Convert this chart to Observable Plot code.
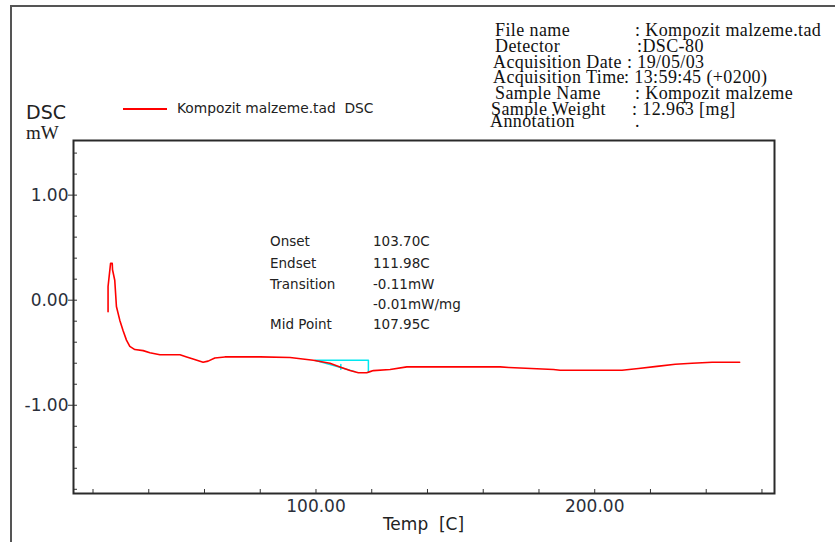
<!DOCTYPE html>
<html>
<head>
<meta charset="utf-8">
<script src="https://cdn.jsdelivr.net/npm/d3@7"></script>
<script src="https://cdn.jsdelivr.net/npm/@observablehq/plot@0.6"></script>
<style>
  html, body { margin: 0; padding: 0; background: #fff; }
  #wrap { position: relative; width: 835px; height: 542px; overflow: hidden; background: #fff; }
  #wrap svg { position: absolute; left: 0; top: 0; }
  .t { position: absolute; white-space: pre; line-height: 16px; height: 16px; }
  .hdr { font-family: "Liberation Serif", "Times New Roman", serif; font-size: 18px; letter-spacing: 0.4px; color: #111; line-height: 15px; height: 15px; }
  .ann { font-family: "DejaVu Sans", sans-serif; font-size: 13.5px; color: #222; }
  .border-top { position: absolute; left: 10px; top: 5px; width: 825px; height: 2px; background: #555; }
  .border-left { position: absolute; left: 10px; top: 5px; width: 2px; height: 537px; background: #555; }
</style>
</head>
<body>
<div id="wrap"></div>
<script>
// ---- data ----
const temps = [25.4, 25.4, 26.3, 26.9, 27.0, 27.8, 28.4, 29.6, 30.8, 32.0, 33.2, 35.0, 38.0, 40.4, 44.0, 51.2, 53.6, 55.9, 59.5, 61.3, 63.7, 67.3, 72.7, 80.0, 90.7, 99.0, 105.0, 108.6, 112.2, 115.2, 118.2, 119.4, 120.6, 126.6, 132.6, 150.0, 166.1, 169.2, 185.2, 187.6, 209.8, 215.7, 222.3, 228.9, 234.9, 242.1, 252.0];
const dscValues = [-0.11, 0.13, 0.35, 0.35, 0.29, 0.19, -0.06, -0.19, -0.29, -0.38, -0.44, -0.47, -0.48, -0.50, -0.52, -0.52, -0.54, -0.56, -0.59, -0.58, -0.55, -0.54, -0.54, -0.54, -0.546, -0.571, -0.60, -0.635, -0.67, -0.69, -0.69, -0.68, -0.67, -0.66, -0.635, -0.635, -0.635, -0.64, -0.66, -0.667, -0.667, -0.65, -0.63, -0.61, -0.60, -0.59, -0.59];

// cyan analysis construction (baseline / step)
const stepT = [114.0, 99.6, 118.8, 118.8];
const stepV = [-0.68, -0.571, -0.571, -0.683];
const midT = [108.9, 108.9];
const midV = [-0.613, -0.657];

const yMajorTicks = [1, 0, -1];
const yMinorTicks = [-1.8, -1.6, -1.4, -1.2, -1.0, -0.8, -0.6, -0.4, -0.2, 0, 0.2, 0.4, 0.6, 0.8, 1.0, 1.2, 1.4];
const xMajorTicks = [100, 200];
const xMinorTicks = [20, 40, 60, 80, 100, 120, 140, 160, 180, 200, 220, 240, 260];

const headerLabels = ["File name", "Detector", "Acquisition Date", "Acquisition Time", "Sample Name", "Sample Weight", "Annotation"];
const headerValues = [": Kompozit malzeme.tad", ":DSC-80", ": 19/05/03", ": 13:59:45 (+0200)", ": Kompozit malzeme", ": 12.963 [mg]", "."];

const annLabels = ["Onset", "Endset", "Transition", "", "Mid Point"];
const annValues = ["103.70C", "111.98C", "-0.11mW", "-0.01mW/mg", "107.95C"];

const legendLabel = "Kompozit malzeme.tad  DSC";

// ---- chart ----
const curve = temps.map((t, i) => ({t, v: dscValues[i]}));
const step = stepT.map((t, i) => ({t, v: stepV[i]}));
const mid = midT.map((t, i) => ({t, v: midV[i]}));
const fmt = d => d.toFixed(2);

const chart = Plot.plot({
  width: 835,
  height: 542,
  marginLeft: 73,
  marginRight: 61,
  marginTop: 140,
  marginBottom: 49,
  x: {domain: [13, 264.5]},
  y: {domain: [-1.84, 1.52]},
  style: {fontFamily: "DejaVu Sans, sans-serif", fontSize: "17px", color: "#2a2f3a", background: "transparent"},
  marks: [
    Plot.axisY(yMajorTicks, {tickSize: 5, tickPadding: 0, tickFormat: fmt, label: null, fontSize: 17, stroke: "#333"}),
    Plot.axisY(yMinorTicks, {tickSize: -4, text: null, label: null, stroke: "#333"}),
    Plot.axisX(xMajorTicks, {tickSize: 0, tickPadding: 6, tickFormat: fmt, label: null, fontSize: 17}),
    Plot.axisX(xMinorTicks, {tickSize: -4, text: null, label: null, stroke: "#333"}),
    Plot.line(step, {x: "t", y: "v", stroke: "#00e8f0", strokeWidth: 1.5}),
    Plot.line(mid, {x: "t", y: "v", stroke: "#00e8f0", strokeWidth: 1.5}),
    Plot.line(curve, {x: "t", y: "v", stroke: "#ff0000", strokeWidth: 1.6, curve: "linear"}),
    Plot.frame({stroke: "#2a2a2a", strokeWidth: 2})
  ]
});

const wrap = document.getElementById("wrap");
wrap.appendChild(chart);

function addText(cls, text, left, centerY, extra) {
  const d = document.createElement("div");
  d.className = "t " + cls;
  d.textContent = text;
  d.style.left = left + "px";
  d.style.top = (centerY - 8) + "px";
  if (extra) Object.assign(d.style, extra);
  wrap.appendChild(d);
  return d;
}

// outer border
const bt = document.createElement("div"); bt.className = "border-top"; wrap.appendChild(bt);
const bl = document.createElement("div"); bl.className = "border-left"; wrap.appendChild(bl);

// header block
const hdrY = [30.5, 46.5, 62.5, 78, 94, 109.5, 121.5];
const hdrLabelX = [495, 495, 493, 493, 495, 491, 490];
const hdrValueX = [635, 637, 627, 624, 635, 632, 635];
headerLabels.forEach((s, i) => addText("hdr", s, hdrLabelX[i], hdrY[i]));
headerValues.forEach((s, i) => addText("hdr", s, hdrValueX[i], hdrY[i]));

// y-axis title
addText("", "DSC", 26, 112, {fontFamily: "DejaVu Sans, sans-serif", fontSize: "19px", color: "#222", height: "20px", lineHeight: "20px", top: "102px"});
addText("", "mW", 26, 132, {fontFamily: "Liberation Serif, serif", fontSize: "19px", color: "#222", height: "20px", lineHeight: "20px", top: "123px"});

// legend
const lg = document.createElement("div");
Object.assign(lg.style, {position: "absolute", left: "123px", top: "108px", width: "44px", height: "1.5px", background: "#ff0000"});
wrap.appendChild(lg);
addText("ann", legendLabel, 177, 108, {fontSize: "13.8px"});

// x-axis title
addText("", "Temp  [C]", 0, 524, {fontFamily: "DejaVu Sans, sans-serif", fontSize: "17px", color: "#222", width: "847px", textAlign: "center", height: "20px", lineHeight: "20px", top: "514px"});

// analysis annotation block
const annY = [241, 263, 283.5, 303.5, 324];
annLabels.forEach((s, i) => { if (s) addText("ann", s, 270, annY[i]); });
annValues.forEach((s, i) => addText("ann", s, 373, annY[i], {width: (463 - 373) + "px", overflow: "hidden"}));
</script>
</body>
</html>
